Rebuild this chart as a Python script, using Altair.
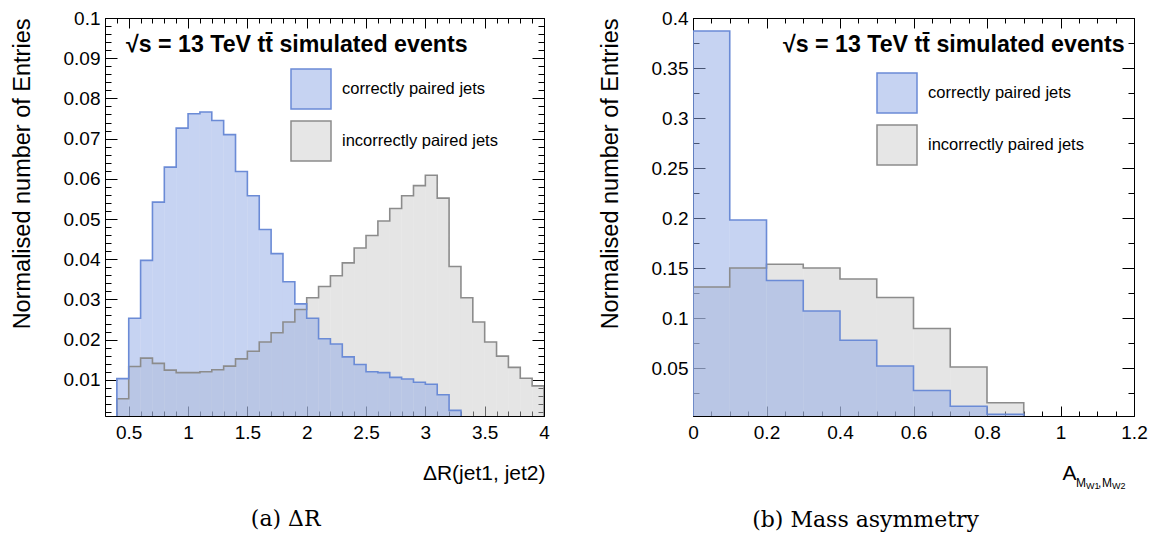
import altair as alt
import pandas as pd

COR = "correctly paired jets"
INC = "incorrectly paired jets"
ECM = "\u221as = 13 TeV tt\u0304 simulated events"
FONT = "Liberation Sans"

# ---- panel (a): Delta R, bins of 0.1 from 0.4 to 4.0
dr_bin_lo = [round(0.4 + 0.1 * i, 2) for i in range(36)]
dr_correct = [0.0103, 0.0253, 0.0397, 0.0542, 0.0629, 0.0726, 0.0762, 0.0766, 0.0745, 0.0710,
              0.0618, 0.0558, 0.0474, 0.0414, 0.0344, 0.0289, 0.0253, 0.0202, 0.0189, 0.0157,
              0.0138, 0.0120, 0.0118, 0.0106, 0.0102, 0.0094, 0.0089, 0.0063, 0.0024, 0.0,
              0.0, 0.0, 0.0, 0.0, 0.0, 0.0]
dr_incorrect = [0.0053, 0.0133, 0.0154, 0.0141, 0.0124, 0.0118, 0.0118, 0.0120, 0.0125, 0.0134,
                0.0152, 0.0171, 0.0194, 0.0217, 0.0244, 0.0275, 0.0304, 0.0332, 0.0359, 0.0391,
                0.0428, 0.0459, 0.0495, 0.0526, 0.0558, 0.0583, 0.0609, 0.0552, 0.0382, 0.0304,
                0.0244, 0.0194, 0.0159, 0.0131, 0.0104, 0.0085]

# ---- panel (b): mass asymmetry, bins of 0.1 from 0 to 0.9
as_bin_lo = [0.0, 0.1, 0.2, 0.3, 0.4, 0.5, 0.6, 0.7, 0.8]
as_correct = [0.387, 0.198, 0.1375, 0.107, 0.0778, 0.052, 0.0275, 0.0118, 0.0037]
as_incorrect = [0.131, 0.150, 0.1537, 0.150, 0.139, 0.1205, 0.0895, 0.051, 0.0152]

# tick values
dr_x_major = [0.5, 1, 1.5, 2, 2.5, 3, 3.5, 4]
dr_x_minor = [round(0.3 + 0.1 * i, 2) for i in range(38)]
dr_y_major = [0.01, 0.02, 0.03, 0.04, 0.05, 0.06, 0.07, 0.08, 0.09, 0.1]
dr_y_minor = [round(0.002 * i, 3) for i in range(1, 51)]
as_x_major = [0, 0.2, 0.4, 0.6, 0.8, 1, 1.2]
as_x_minor = [round(0.05 * i, 2) for i in range(25)]
as_y_major = [0.05, 0.1, 0.15, 0.2, 0.25, 0.3, 0.35, 0.4]
as_y_minor = [round(0.025 * i, 3) for i in range(1, 17)]

BLUE_F, BLUE_L = "#8ea8e6", "#6b8bd6"
GRAY_F, GRAY_L = "#cccccc", "#8c8c8c"
BLUE_LEG, GRAY_LEG = "#c6d3f2", "#e6e6e6"
H = 398


def tick_axis(orient, off, vals, size):
    return alt.Axis(orient=orient, offset=off, values=vals, tickSize=size, ticks=True,
                    labels=False, domain=False, grid=False, tickColor="black", tickWidth=1)


def panel(lo, bw, corr, inc, xdom, ydom, xmaj, xmin, ymaj, ymin, W, xtitle, xt_x, xt_align,
          caption, lx, ly, ecm_x, cap_offset, cap_dx, extra=()):
    xs = alt.Scale(domain=xdom, nice=False, zero=False)
    ys = alt.Scale(domain=ydom, nice=False, zero=False)
    rows = []
    for s, vals in ((INC, inc), (COR, corr)):
        for l, v in zip(lo, vals):
            rows.append(dict(series=s, lo=l, hi=round(l + bw, 3), v=v))
    bars = pd.DataFrame(rows)
    orows = []
    for s, vals in ((INC, inc), (COR, corr)):
        end = round(lo[-1] + bw, 3)
        pts = [(lo[0], 0.0)] + list(zip(lo, vals)) + [(end, vals[-1]), (end, 0.0)]
        for i, (x, y) in enumerate(pts):
            orows.append(dict(series=s, x=x, v=y, idx=i))
    outline = pd.DataFrame(orows)

    x_main = alt.Axis(orient="bottom", values=xmaj, format="~g", ticks=False, tickSize=0,
                      domain=False, grid=False, labelFont=FONT, labelFontSize=19,
                      labelColor="black", labelPadding=7, labelFlush=False, labelOverlap=False,
                      titleFont=FONT, titleFontSize=21, titleFontWeight="normal",
                      titleColor="black", titleX=xt_x, titleY=63, titleAlign=xt_align,
                      titleBaseline="alphabetic")
    y_main = alt.Axis(orient="left", values=ymaj, format="~g", ticks=False, tickSize=0,
                      domain=False, grid=False, labelFont=FONT, labelFontSize=19,
                      labelColor="black", labelPadding=5, labelFlush=False, labelOverlap=False,
                      titleFont=FONT, titleFontSize=23.5, titleFontWeight="normal",
                      titleColor="black", titleAnchor="end", titlePadding=29)

    def rect_layer(series, color, xaxis, yaxis, xt=None, yt=None):
        return alt.Chart(bars).transform_filter(alt.datum.series == series).mark_rect(
            clip=True, fill=color, fillOpacity=0.5, strokeWidth=0).encode(
            x=alt.X("lo:Q", scale=xs, axis=xaxis, title=xt),
            x2="hi:Q",
            y=alt.Y("v:Q", scale=ys, axis=yaxis, title=yt),
            y2=alt.datum(0.0),
        )

    def line_layer(series, color, xaxis, yaxis):
        return alt.Chart(outline).transform_filter(alt.datum.series == series).mark_line(
            interpolate="step-after", clip=True, strokeWidth=1.6, color=color).encode(
            x=alt.X("x:Q", scale=xs, axis=xaxis, title=None),
            y=alt.Y("v:Q", scale=ys, axis=yaxis, title=None),
            order="idx:Q",
        )

    r_gray = rect_layer(INC, GRAY_F, x_main, y_main, xtitle, "Normalised number of Entries")
    r_blue = rect_layer(COR, BLUE_F, tick_axis("top", -H, xmaj, 10), tick_axis("right", -W, ymaj, 12))
    l_gray = line_layer(INC, GRAY_L, tick_axis("top", -H, xmin, 5), tick_axis("right", -W, ymin, 6))
    l_blue = line_layer(COR, BLUE_L, tick_axis("bottom", -H, xmaj, 10), tick_axis("left", -W, ymaj, 12))

    leg = alt.Legend(orient="none", legendX=lx, legendY=ly, title=None, symbolType="square",
                     symbolSize=1600, symbolStrokeWidth=1.5, labelFont=FONT, labelFontSize=16.5,
                     labelColor="black", labelOffset=10, rowPadding=6, padding=0, labelLimit=0)
    legend_layer = alt.Chart(bars).mark_point(shape="square", filled=True, fillOpacity=1,
                                              strokeWidth=1.5, size=1600, clip=True).encode(
        x=alt.X("lo:Q", scale=xs, axis=tick_axis("bottom", -H, xmin, 5), title=None),
        y=alt.Y("v:Q", scale=ys, axis=tick_axis("left", -W, ymin, 6), title=None),
        yOffset=alt.value(2000),
        fill=alt.Fill("series:N", scale=alt.Scale(domain=[COR, INC], range=[BLUE_LEG, GRAY_LEG]),
                      legend=leg),
        stroke=alt.Stroke("series:N", scale=alt.Scale(domain=[COR, INC], range=[BLUE_L, GRAY_L]),
                          legend=leg),
    )
    ecm = alt.Chart(pd.DataFrame({"t": [ECM]})).mark_text(
        align="left", baseline="alphabetic", font=FONT, fontSize=23.2, fontWeight="bold",
        color="black").encode(x=alt.value(ecm_x), y=alt.value(34), text="t:N")

    return alt.layer(r_gray, r_blue, l_gray, l_blue, legend_layer, ecm, *extra).resolve_axis(
        x="independent", y="independent").properties(
        width=W, height=H,
        title=alt.TitleParams(caption, orient="bottom", anchor="middle", frame="bounds",
                              font="DejaVu Serif", fontSize=22, fontWeight="normal",
                              color="black", offset=cap_offset, dx=cap_dx))


RW = 441
sub_parts = [("M", 12, 383, 71), ("W1", 9, 393, 73), (",", 12, 405, 71), ("M", 12, 409, 71),
             ("W2", 9, 419, 73)]
subs = []
for txt, fs, px, py in sub_parts:
    subs.append(alt.Chart(pd.DataFrame({"t": [txt]})).mark_text(
        align="left", baseline="alphabetic", font=FONT, fontSize=fs, color="black").encode(
        x=alt.value(px), y=alt.value(H + py), text="t:N"))

left = panel(dr_bin_lo, 0.1, dr_correct, dr_incorrect, [0.3, 4.0], [0.001, 0.1],
             dr_x_major, dr_x_minor, dr_y_major, dr_y_minor, 439,
             "\u0394R(jet1, jet2)", 440, "right", "(a) \u0394R", 185, 50, 21, 26, 6)
right = panel(as_bin_lo, 0.1, as_correct, as_incorrect, [0.0, 1.2], [0.002, 0.4],
              as_x_major, as_x_minor, as_y_major, as_y_minor, RW,
              "A", 369, "left", "(b) Mass asymmetry", 183, 54, 90, 19, -7, subs)

chart = alt.hconcat(left, right, spacing=47).resolve_scale(
    x="independent", y="independent", fill="independent", stroke="independent").resolve_legend(
    fill="independent", stroke="independent").configure_view(
    stroke="black", strokeWidth=1).properties(
    padding={"left": 1, "top": 0, "right": 0, "bottom": 0})

chart.save("out.html", embed_options={"renderer": "svg", "actions": False})
